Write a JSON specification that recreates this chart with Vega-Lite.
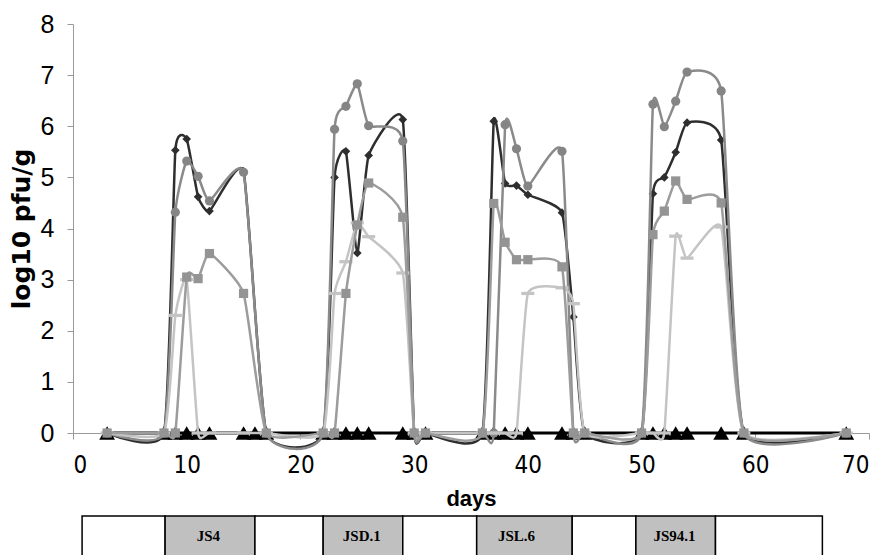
{
  "$schema": "https://vega.github.io/schema/vega-lite/v6.json",
  "padding": {"left": 9, "top": 12, "right": 0, "bottom": 0},
  "spacing": 6,
  "config": {
    "view": {"stroke": null},
    "axis": {"grid": false, "labelColor": "black", "titleColor": "black"}
  },
  "datasets": {
    "obs": [
      {"s": "tri", "day": 3, "v": 0}, {"s": "tri", "day": 8, "v": 0}, {"s": "tri", "day": 9, "v": 0}, {"s": "tri", "day": 10, "v": 0}, {"s": "tri", "day": 11, "v": 0}, {"s": "tri", "day": 12, "v": 0}, {"s": "tri", "day": 15, "v": 0}, {"s": "tri", "day": 16, "v": 0}, {"s": "tri", "day": 17, "v": 0}, {"s": "tri", "day": 22, "v": 0}, {"s": "tri", "day": 23, "v": 0}, {"s": "tri", "day": 24, "v": 0}, {"s": "tri", "day": 25, "v": 0}, {"s": "tri", "day": 26, "v": 0}, {"s": "tri", "day": 29, "v": 0}, {"s": "tri", "day": 30, "v": 0}, {"s": "tri", "day": 31, "v": 0}, {"s": "tri", "day": 36, "v": 0}, {"s": "tri", "day": 37, "v": 0}, {"s": "tri", "day": 38, "v": 0}, {"s": "tri", "day": 39, "v": 0}, {"s": "tri", "day": 40, "v": 0}, {"s": "tri", "day": 43, "v": 0}, {"s": "tri", "day": 44, "v": 0}, {"s": "tri", "day": 45, "v": 0}, {"s": "tri", "day": 50, "v": 0}, {"s": "tri", "day": 51, "v": 0}, {"s": "tri", "day": 52, "v": 0}, {"s": "tri", "day": 53, "v": 0}, {"s": "tri", "day": 54, "v": 0}, {"s": "tri", "day": 57, "v": 0}, {"s": "tri", "day": 59, "v": 0}, {"s": "tri", "day": 68, "v": 0},

      {"s": "dark", "day": 3, "v": 0}, {"s": "dark", "day": 8, "v": 0}, {"s": "dark", "day": 9, "v": 5.53}, {"s": "dark", "day": 10, "v": 5.75}, {"s": "dark", "day": 11, "v": 4.62}, {"s": "dark", "day": 12, "v": 4.34}, {"s": "dark", "day": 15, "v": 5.12}, {"s": "dark", "day": 17, "v": 0}, {"s": "dark", "day": 22, "v": 0}, {"s": "dark", "day": 23, "v": 5.0}, {"s": "dark", "day": 24, "v": 5.51}, {"s": "dark", "day": 25, "v": 3.52}, {"s": "dark", "day": 26, "v": 5.43}, {"s": "dark", "day": 29, "v": 6.13}, {"s": "dark", "day": 30, "v": 0}, {"s": "dark", "day": 31, "v": 0}, {"s": "dark", "day": 36, "v": 0}, {"s": "dark", "day": 37, "v": 6.1}, {"s": "dark", "day": 38, "v": 4.88}, {"s": "dark", "day": 39, "v": 4.84}, {"s": "dark", "day": 40, "v": 4.66}, {"s": "dark", "day": 43, "v": 4.31}, {"s": "dark", "day": 44, "v": 2.27}, {"s": "dark", "day": 45, "v": 0}, {"s": "dark", "day": 50, "v": 0}, {"s": "dark", "day": 51, "v": 4.68}, {"s": "dark", "day": 52, "v": 5.0}, {"s": "dark", "day": 53, "v": 5.49}, {"s": "dark", "day": 54, "v": 6.07}, {"s": "dark", "day": 57, "v": 5.73}, {"s": "dark", "day": 59, "v": 0}, {"s": "dark", "day": 68, "v": 0},

      {"s": "circle", "day": 3, "v": 0}, {"s": "circle", "day": 8, "v": 0}, {"s": "circle", "day": 9, "v": 4.32}, {"s": "circle", "day": 10, "v": 5.32}, {"s": "circle", "day": 11, "v": 5.02}, {"s": "circle", "day": 12, "v": 4.54}, {"s": "circle", "day": 15, "v": 5.1}, {"s": "circle", "day": 17, "v": 0}, {"s": "circle", "day": 22, "v": 0}, {"s": "circle", "day": 23, "v": 5.94}, {"s": "circle", "day": 24, "v": 6.39}, {"s": "circle", "day": 25, "v": 6.83}, {"s": "circle", "day": 26, "v": 6.01}, {"s": "circle", "day": 29, "v": 5.71}, {"s": "circle", "day": 30, "v": 0}, {"s": "circle", "day": 31, "v": 0}, {"s": "circle", "day": 36, "v": 0}, {"s": "circle", "day": 37, "v": 0}, {"s": "circle", "day": 38, "v": 6.03}, {"s": "circle", "day": 39, "v": 5.56}, {"s": "circle", "day": 40, "v": 4.83}, {"s": "circle", "day": 43, "v": 5.51}, {"s": "circle", "day": 44, "v": 0}, {"s": "circle", "day": 45, "v": 0}, {"s": "circle", "day": 50, "v": 0}, {"s": "circle", "day": 51, "v": 6.43}, {"s": "circle", "day": 52, "v": 5.99}, {"s": "circle", "day": 53, "v": 6.49}, {"s": "circle", "day": 54, "v": 7.06}, {"s": "circle", "day": 57, "v": 6.69}, {"s": "circle", "day": 59, "v": 0}, {"s": "circle", "day": 68, "v": 0},

      {"s": "light", "day": 3, "v": 0}, {"s": "light", "day": 8, "v": 0}, {"s": "light", "day": 9, "v": 2.3}, {"s": "light", "day": 10, "v": 3.0}, {"s": "light", "day": 11, "v": 0}, {"s": "light", "day": 12, "v": 0}, {"s": "light", "day": 15, "v": 0}, {"s": "light", "day": 17, "v": 0}, {"s": "light", "day": 22, "v": 0}, {"s": "light", "day": 23, "v": 2.73}, {"s": "light", "day": 24, "v": 3.35}, {"s": "light", "day": 25, "v": 4.11}, {"s": "light", "day": 26, "v": 3.84}, {"s": "light", "day": 29, "v": 3.13}, {"s": "light", "day": 30, "v": 0}, {"s": "light", "day": 31, "v": 0}, {"s": "light", "day": 36, "v": 0}, {"s": "light", "day": 37, "v": 0}, {"s": "light", "day": 38, "v": 0}, {"s": "light", "day": 39, "v": 0}, {"s": "light", "day": 40, "v": 2.73}, {"s": "light", "day": 43, "v": 2.84}, {"s": "light", "day": 44, "v": 2.53}, {"s": "light", "day": 45, "v": 0}, {"s": "light", "day": 50, "v": 0}, {"s": "light", "day": 51, "v": 0}, {"s": "light", "day": 52, "v": 0}, {"s": "light", "day": 53, "v": 3.85}, {"s": "light", "day": 54, "v": 3.42}, {"s": "light", "day": 57, "v": 4.03}, {"s": "light", "day": 59, "v": 0}, {"s": "light", "day": 68, "v": 0},

      {"s": "square", "day": 3, "v": 0}, {"s": "square", "day": 8, "v": 0}, {"s": "square", "day": 9, "v": 0}, {"s": "square", "day": 10, "v": 3.05}, {"s": "square", "day": 11, "v": 3.02}, {"s": "square", "day": 12, "v": 3.51}, {"s": "square", "day": 15, "v": 2.73}, {"s": "square", "day": 17, "v": 0}, {"s": "square", "day": 22, "v": 0}, {"s": "square", "day": 23, "v": 0}, {"s": "square", "day": 24, "v": 2.73}, {"s": "square", "day": 25, "v": 4.07}, {"s": "square", "day": 26, "v": 4.89}, {"s": "square", "day": 29, "v": 4.22}, {"s": "square", "day": 30, "v": 0}, {"s": "square", "day": 31, "v": 0}, {"s": "square", "day": 36, "v": 0}, {"s": "square", "day": 37, "v": 4.49}, {"s": "square", "day": 38, "v": 3.73}, {"s": "square", "day": 39, "v": 3.39}, {"s": "square", "day": 40, "v": 3.39}, {"s": "square", "day": 43, "v": 3.25}, {"s": "square", "day": 44, "v": 0}, {"s": "square", "day": 45, "v": 0}, {"s": "square", "day": 50, "v": 0}, {"s": "square", "day": 51, "v": 3.88}, {"s": "square", "day": 52, "v": 4.34}, {"s": "square", "day": 53, "v": 4.93}, {"s": "square", "day": 54, "v": 4.57}, {"s": "square", "day": 57, "v": 4.5}, {"s": "square", "day": 59, "v": 0}, {"s": "square", "day": 68, "v": 0}
    ],
    "tab": [
      {"a": 0.8, "b": 8.1, "mid": 4.45, "label": ""},
      {"a": 8.1, "b": 16.0, "mid": 11.9, "label": "JS4"},
      {"a": 16.0, "b": 22.0, "mid": 19.0, "label": ""},
      {"a": 22.0, "b": 29.0, "mid": 25.4, "label": "JSD.1"},
      {"a": 29.0, "b": 35.5, "mid": 32.25, "label": ""},
      {"a": 35.5, "b": 43.9, "mid": 39.0, "label": "JSL.6"},
      {"a": 43.9, "b": 49.5, "mid": 46.7, "label": ""},
      {"a": 49.5, "b": 56.5, "mid": 52.9, "label": "JS94.1"},
      {"a": 56.5, "b": 65.9, "mid": 61.2, "label": ""}
    ]
  },
  "vconcat": [
    {
      "width": 796,
      "height": 409,
      "data": {"name": "obs"},
      "encoding": {
        "x": {
          "field": "day", "type": "quantitative",
          "scale": {"domain": [0, 70], "nice": false},
          "axis": {
            "values": [0, 10, 20, 30, 40, 50, 60, 70],
            "title": "days",
            "domainColor": "#9a9a9a", "tickColor": "#9a9a9a", "tickSize": 6,
            "labelFont": "Liberation Sans Narrow, DejaVu Sans Condensed, sans-serif",
            "labelFontSize": 24, "labelPadding": 14,
            "titleFont": "Liberation Sans", "titleFontSize": 22, "titleFontWeight": "bold",
            "titlePadding": 11
          }
        },
        "y": {
          "field": "v", "type": "quantitative",
          "scale": {"domain": [0, 8], "nice": false},
          "axis": {
            "values": [0, 1, 2, 3, 4, 5, 6, 7, 8],
            "title": "log10 pfu/g",
            "domainColor": "#9a9a9a", "tickColor": "#9a9a9a", "tickSize": 6,
            "labelFont": "Liberation Sans", "labelFontSize": 25, "labelPadding": 13,
            "titleFont": "DejaVu Sans", "titleFontSize": 25, "titleFontWeight": "bold",
            "titlePadding": 6
          }
        }
      },
      "layer": [
        {"transform": [{"filter": "datum.s == 'tri'"}], "mark": {"type": "line", "color": "#000000", "strokeWidth": 3}},
        {"transform": [{"filter": "datum.s == 'tri'"}], "mark": {"type": "point", "shape": "triangle-up", "filled": true, "size": 250, "color": "#000000", "opacity": 1}},
        {"transform": [{"filter": "datum.s == 'dark'"}], "mark": {"type": "line", "interpolate": "cardinal", "tension": 0.55, "color": "#2e2e2e", "strokeWidth": 2.5}},
        {"transform": [{"filter": "datum.s == 'dark'"}], "mark": {"type": "point", "shape": "diamond", "filled": true, "size": 75, "color": "#2e2e2e", "opacity": 1}},
        {"transform": [{"filter": "datum.s == 'circle'"}], "mark": {"type": "line", "interpolate": "cardinal", "tension": 0.55, "color": "#8a8a8a", "strokeWidth": 2.5}},
        {"transform": [{"filter": "datum.s == 'circle'"}], "mark": {"type": "point", "shape": "circle", "filled": true, "size": 85, "color": "#858585", "opacity": 1}},
        {"transform": [{"filter": "datum.s == 'light'"}], "mark": {"type": "line", "interpolate": "cardinal", "tension": 0.55, "color": "#c4c4c4", "strokeWidth": 2.5}},
        {"transform": [{"filter": "datum.s == 'light'"}], "mark": {"type": "point", "shape": "M-1,-0.25H1V0.25H-1Z", "filled": true, "size": 170, "color": "#c4c4c4", "opacity": 1}},
        {"transform": [{"filter": "datum.s == 'square'"}], "mark": {"type": "line", "interpolate": "cardinal", "tension": 0.55, "color": "#9c9c9c", "strokeWidth": 2.5}},
        {"transform": [{"filter": "datum.s == 'square'"}], "mark": {"type": "point", "shape": "square", "filled": true, "size": 85, "color": "#949494", "opacity": 1}}
      ]
    },
    {
      "width": 796,
      "height": 40,
      "data": {"name": "tab"},
      "encoding": {
        "x": {"field": "a", "type": "quantitative", "scale": {"domain": [0, 70], "nice": false}, "axis": null}
      },
      "layer": [
        {
          "mark": {"type": "rect", "stroke": "#000000", "strokeWidth": 1.5},
          "encoding": {
            "x2": {"field": "b"},
            "fill": {"condition": {"test": "datum.label != ''", "value": "#c0c0c0"}, "value": "#ffffff"}
          }
        },
        {
          "mark": {"type": "text", "font": "Liberation Serif", "fontWeight": "bold", "fontSize": 15, "color": "#000000"},
          "encoding": {
            "x": {"field": "mid", "type": "quantitative"},
            "text": {"field": "label"}
          }
        }
      ]
    }
  ]
}
